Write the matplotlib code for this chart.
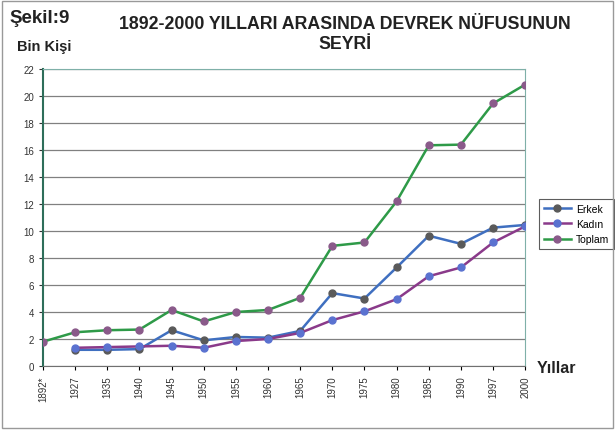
import matplotlib
matplotlib.use("Agg")
import matplotlib.pyplot as plt
from matplotlib.patches import Rectangle

plt.rcParams['font.family'] = ['Liberation Sans', 'DejaVu Sans']

years = ["1892*", "1927", "1935", "1940", "1945", "1950", "1955", "1960",
         "1965", "1970", "1975", "1980", "1985", "1990", "1997", "2000"]

# thousands of people; 1892 has only the total
erkek = [None, 1.2, 1.2, 1.25, 2.65, 1.9, 2.15, 2.1, 2.6, 5.4, 5.0, 7.3,
         9.65, 9.05, 10.25, 10.45]
kadin = [None, 1.35, 1.4, 1.45, 1.5, 1.35, 1.85, 2.0, 2.45, 3.4, 4.05, 4.95,
         6.65, 7.3, 9.15, 10.35]
toplam = [1.8, 2.5, 2.65, 2.7, 4.15, 3.3, 4.0, 4.15, 5.05, 8.9, 9.15, 12.2,
          16.35, 16.4, 19.45, 20.85]

fig = plt.figure(figsize=(6.15, 4.31), dpi=100)
fig.patch.set_facecolor('white')
ax = fig.add_axes([0.070, 0.1485, 0.784, 0.689])

x = list(range(len(years)))

def series(vals):
    xs = [i for i, v in zip(x, vals) if v is not None]
    ys = [v for v in vals if v is not None]
    return xs, ys

xs, ys = series(erkek)
ax.plot(xs, ys, color='#3f6fc0', lw=1.8, marker='o', ms=5,
        mfc='#5a5a5a', mec='#5a5a5a', label='Erkek', zorder=3)
xs, ys = series(kadin)
ax.plot(xs, ys, color='#8a3a8a', lw=1.8, marker='o', ms=5,
        mfc='#5a72d0', mec='#5a72d0', label='Kadın', zorder=3)
xs, ys = series(toplam)
ax.plot(xs, ys, color='#2e9a48', lw=1.8, marker='o', ms=5,
        mfc='#8a5a8a', mec='#8a5a8a', label='Toplam', zorder=3)

ax.set_xlim(0, len(years) - 1)
ax.set_ylim(0, 22)
ax.set_yticks(range(0, 23, 2))
ax.set_xticks(x)
ax.set_xticklabels(years, rotation=90, fontsize=7, color='#333333')
ax.tick_params(axis='y', labelsize=7, colors='#333333', length=3)
ax.tick_params(axis='x', length=3)
ax.yaxis.grid(True, color='#808080', lw=0.9)
ax.set_axisbelow(True)
for side in ['top', 'right']:
    ax.spines[side].set_color('#7fb0a8')
ax.spines['left'].set_color('#2e6e5a')
ax.spines['left'].set_linewidth(1.5)
ax.spines['bottom'].set_color('#707070')

leg = ax.legend(loc='center left', bbox_to_anchor=(0.868, 0.478),
                bbox_transform=fig.transFigure, fontsize=7.5, frameon=True,
                fancybox=False, edgecolor='#333333', handlelength=2.6,
                borderpad=0.45, labelspacing=0.5, handletextpad=0.5)
leg.get_frame().set_linewidth(0.8)

fig.text(0.016, 0.956, "Şekil:9", fontsize=13.5, fontweight='bold',
         color='#222222', va='center')
fig.text(0.561, 0.920, "1892-2000 YILLARI ARASINDA DEVREK NÜFUSUNUN\nSEYRİ",
         fontsize=12.8, fontweight='bold', ha='center', va='center',
         color='#222222', linespacing=1.25)
fig.text(0.027, 0.891, "Bin Kişi", fontsize=10.5, fontweight='bold',
         color='#222222', va='center')
fig.text(0.873, 0.146, "Yıllar", fontsize=11.5, fontweight='bold',
         color='#222222', va='center')

fig.add_artist(Rectangle((0.003, 0.005), 0.994, 0.99, transform=fig.transFigure,
                         fill=False, edgecolor='#999999', lw=1))

fig.savefig('out.png', dpi=100, facecolor='white')
